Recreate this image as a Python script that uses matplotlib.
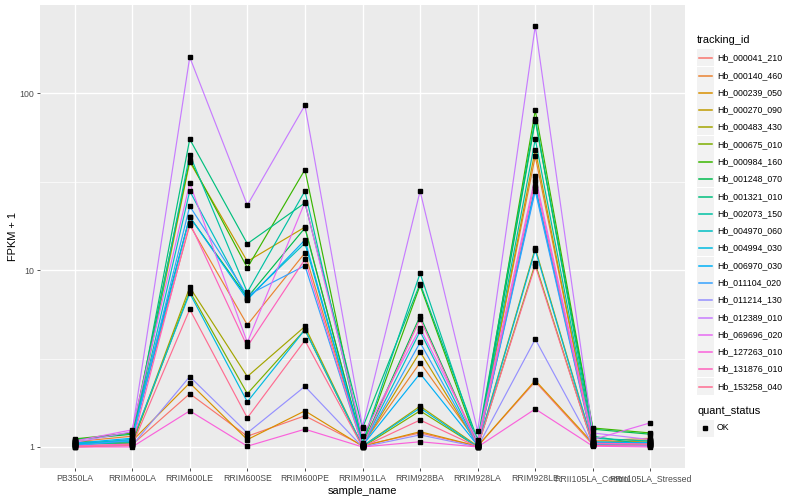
import numpy as np
import matplotlib
matplotlib.use("Agg")
import matplotlib.pyplot as plt
from matplotlib.lines import Line2D
from matplotlib.patches import Rectangle

plt.rcParams['font.family'] = ['Liberation Sans', 'DejaVu Sans']

samples = ["PB350LA", "RRIM600LA", "RRIM600LE", "RRIM600SE", "RRIM600PE",
           "RRIM901LA", "RRIM928BA", "RRIM928LA", "RRIM928LE",
           "RRII105LA_Control", "RRII105LA_Stressed"]

tracking_ids = ["Hb_000041_210", "Hb_000140_460", "Hb_000239_050", "Hb_000270_090",
                "Hb_000483_430", "Hb_000675_010", "Hb_000984_160", "Hb_001248_070",
                "Hb_001321_010", "Hb_002073_150", "Hb_004970_060", "Hb_004994_030",
                "Hb_006970_030", "Hb_011104_020", "Hb_011214_130", "Hb_012389_010",
                "Hb_069696_020", "Hb_127263_010", "Hb_131876_010", "Hb_153258_040"]

# ggplot hue palette, 20 levels
colors = ["#F8766D", "#EA8331", "#D89000", "#C09B00", "#A3A500", "#7CAE00",
          "#39B600", "#00BB4E", "#00BF7D", "#00C1A3", "#00BFC4", "#00BAE0",
          "#00B0F6", "#35A2FF", "#9590FF", "#C77CFF", "#E76BF3", "#FA62DB",
          "#FF62BC", "#FF6C91"]

# FPKM + 1 per sample, one value per tracking_id (same order as above)
pb350la   = [1.02, 1.07, 1.05, 1.04, 1.06, 1.08, 1.11, 1.10, 1.03, 1.03,
             1.04, 1.04, 1.05, 1.02, 1.00, 1.06, 1.08, 1.00, 1.01, 1.00]
rrim600la = [1.03, 1.15, 1.08, 1.07, 1.05, 1.04, 1.20, 1.18, 1.10, 1.06,
             1.10, 1.08, 1.12, 1.09, 1.02, 1.22, 1.25, 1.00, 1.04, 1.02]
rrim600le = [2.0, 18.0, 2.3, 41.0, 8.0, 7.6, 42.0, 20.0, 55.0, 45.0,
             28.0, 7.4, 20.0, 23.0, 2.5, 160.0, 31.0, 1.6, 18.5, 6.0]
rrim600se = [1.15, 4.9, 1.1, 11.2, 2.5, 2.0, 10.3, 7.0, 14.1, 7.5,
             6.9, 1.8, 6.8, 7.2, 1.2, 23.3, 3.9, 1.01, 3.7, 1.46]
rrim600pe = [1.5, 12.5, 1.6, 17.5, 4.8, 4.6, 37.0, 17.3, 24.0, 28.0,
             14.2, 4.6, 14.8, 10.6, 2.2, 85.5, 24.2, 1.26, 11.5, 4.0]
rrim901la = [1.02, 1.03, 1.01, 1.02, 1.01, 1.00, 1.04, 1.03, 1.28, 1.05,
             1.02, 1.01, 1.02, 1.01, 1.00, 1.30, 1.15, 1.00, 1.01, 1.00]
rrim928ba = [1.2, 3.0, 1.22, 3.45, 1.7, 1.6, 8.2, 5.5, 8.4, 9.6,
             4.5, 1.66, 2.6, 3.9, 1.17, 28.0, 4.7, 1.07, 5.3, 1.42]
rrim928la = [1.01, 1.05, 1.01, 1.02, 1.01, 1.00, 1.03, 1.02, 1.10, 1.04,
             1.01, 1.00, 1.02, 1.01, 1.00, 1.23, 1.08, 1.00, 1.02, 1.00]
rrim928le = [2.34, 44.0, 2.38, 48.0, 13.3, 10.9, 80.0, 70.0, 72.0, 55.0,
             30.0, 13.0, 29.0, 28.0, 4.07, 240.0, 34.0, 1.64, 32.0, 10.6]
rrii105_control = [1.03, 1.08, 1.05, 1.06, 1.04, 1.02, 1.28, 1.26, 1.15, 1.12,
                   1.07, 1.03, 1.06, 1.04, 1.02, 1.20, 1.10, 1.01, 1.05, 1.02]
rrii105_stressed = [1.05, 1.12, 1.10, 1.08, 1.06, 1.04, 1.20, 1.18, 1.02, 1.08,
                    1.05, 1.03, 1.06, 1.02, 1.01, 1.10, 1.37, 1.00, 1.04, 1.03]

values = np.array([pb350la, rrim600la, rrim600le, rrim600se, rrim600pe, rrim901la,
                   rrim928ba, rrim928la, rrim928le, rrii105_control, rrii105_stressed]).T

W, H = 800, 500
fig = plt.figure(figsize=(W / 100, H / 100), dpi=100)
ax = fig.add_axes([40 / W, 1 - 468 / H, 645 / W, 463 / H])
ax.set_facecolor("#EBEBEB")

x = np.arange(1, len(samples) + 1)
for i in range(len(tracking_ids)):
    ax.plot(x, values[i], color=colors[i], lw=0.85, zorder=3)
for i in range(len(tracking_ids)):
    ax.plot(x, values[i], ls='none', marker='s', ms=2.2, color='black', zorder=4)

ax.set_yscale('log')
lo, hi = np.log10(values.min()), np.log10(values.max())
pad = 0.05 * (hi - lo)
ax.set_ylim(10 ** (lo - pad), 10 ** (hi + pad))
ax.set_xlim(0.4, len(samples) + 0.6)

ax.set_yticks([1, 10, 100])
ax.set_yticklabels(["1", "10", "100"])
ax.set_yticks([10 ** 0.5, 10 ** 1.5], minor=True)
ax.yaxis.set_minor_formatter(matplotlib.ticker.NullFormatter())
ax.set_xticks(x)
ax.set_xticklabels(samples)

ax.grid(True, which='major', color='white', lw=1.0, zorder=1)
ax.grid(True, which='minor', axis='y', color='white', lw=0.5, zorder=1)
ax.set_axisbelow(True)
for s in ax.spines.values():
    s.set_visible(False)
ax.tick_params(which='major', length=2.2, width=0.6, color='#333333',
               labelsize=6.3, labelcolor='#4D4D4D', pad=2)
ax.tick_params(which='minor', length=0)

ax.set_xlabel("sample_name", fontsize=7.9, labelpad=2)
ax.set_ylabel("FPKM + 1", fontsize=7.9, va='center')
ax.yaxis.set_label_coords(-27 / 645, 0.5)

# legend: tracking_id
fig.text(697 / W, 1 - 40 / H, "tracking_id", fontsize=7.9, va='center', ha='left')
for i, tid in enumerate(tracking_ids):
    yc = round(57.3 + i * 17.28) + 0.5
    fig.add_artist(Rectangle((697 / W, 1 - (yc + 8.2) / H), 16.5 / W, 16.4 / H,
                             transform=fig.transFigure, facecolor='#F2F2F2',
                             edgecolor='none', zorder=1))
    fig.add_artist(Line2D([698.5 / W, 712 / W], [1 - yc / H, 1 - yc / H],
                          transform=fig.transFigure, color=colors[i], lw=1.1,
                          zorder=2))
    fig.text(717 / W, 1 - yc / H, tid, fontsize=6.3, va='center', ha='left')

# legend: quant_status
fig.text(697 / W, 1 - 411 / H, "quant_status", fontsize=7.9, va='center', ha='left')
fig.add_artist(Rectangle((697 / W, 1 - 436.5 / H), 16.5 / W, 16.4 / H,
                         transform=fig.transFigure, facecolor='#F2F2F2',
                         edgecolor='none'))
fig.add_artist(Line2D([705 / W], [1 - 428 / H], transform=fig.transFigure,
                      ls='none', marker='s', ms=2.2, color='black'))
fig.text(717 / W, 1 - 428 / H, "OK", fontsize=6.3, va='center', ha='left')

fig.savefig("out.png", dpi=100)
